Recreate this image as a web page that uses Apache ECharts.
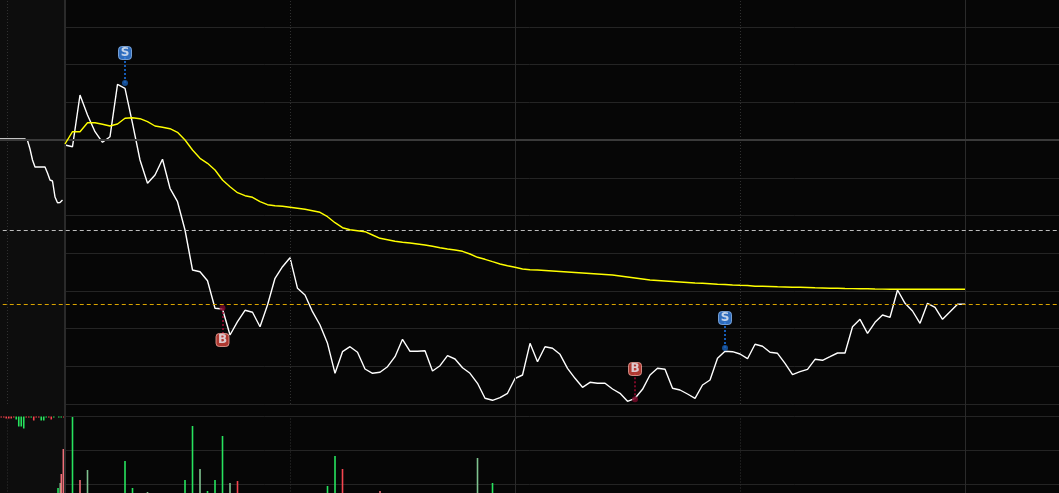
<!DOCTYPE html>
<html><head><meta charset="utf-8">
<style>html,body{margin:0;padding:0;background:#060606}#c{width:1059px;height:493px}</style>
<script src="https://cdn.jsdelivr.net/npm/echarts@6/dist/echarts.min.js"></script>
</head><body><div id="c"></div>
<script>
const preClose = 264;
const prePrice = [265,265,265,265,265,265,265,265,265,265,265,263.5,255,244,237,237,237,237,237,231,224,223,207,201.3,201.5,204];
const price = [259,257.3,309,289,272.3,261.7,267.3,319.7,315.7,280.7,244,220.7,229,244.7,215.7,202.3,174,134,132.3,123.3,95.7,95,69,82.3,93.7,91.7,77.3,99,125.7,137.3,146.3,115.7,109,92.3,79,60.7,30.7,52.3,57.3,51.7,35,30.7,31.7,37.3,47.3,64.7,52.7,52.7,53.3,33,38.3,48.3,45,36.3,30.7,20.7,5.7,3.7,6.3,10.7,25.5,29,60.7,42.3,57.3,55.7,49.7,35.7,25.7,16.7,21.7,20.7,20.7,15,10.7,2.7,5.7,14.7,29,35.7,34.7,15.7,14,10,5.7,19,24,45.7,52.7,52.3,50,45.3,59.7,57.7,51.7,50.7,40.7,29.3,32.3,34.7,44.7,43.7,47.3,51,51,77.3,84.7,70.7,81.7,89,86.7,114,100.7,93,80.7,100.7,96.7,84.7,92.3,99.7,99.7];
const avgPrice = [260,272.3,272.3,281.3,281.3,279.7,278,280,285.7,286.3,285.3,282.3,278,276.7,275.3,271.7,264,254,245.7,240.7,234,224,217.3,211.3,208.3,206.7,202.3,199.3,198.3,197.7,196.7,195.7,194.7,193.3,191.7,187.3,181.3,176.3,174.3,173.3,172.3,169,165.7,164.3,162.7,161.7,161,160,159,157.7,156.3,155,154,152.7,150,146.7,144.7,142.3,140,138.3,136.7,135,134.3,134,133.5,133,132.5,132,131.5,131,130.5,130,129.5,129,128,127,126,125,124,123.5,123,122.5,122,121.5,121,120.7,120.2,119.7,119.5,119,118.7,118.5,117.7,117.7,117.5,117.2,117,116.7,116.7,116.5,116.2,116,115.7,115.7,115.5,115.4,115.3,115.2,115,114.9,114.7,114.7,114.7,114.7,114.7,114.7,114.7,114.7,114.7,114.7,114.7];
const levelHigh = 173.7;
const levelLow = 99.7;
const sigIndex = [8,21,76,88];
const sigText = ['S','B','B','S'];
const sigPrice = [321,96,4.7,56];
const sigBadge = [351,64,35,86];
const preVolHang = [1,1,2,2,2,1,3,10,10,12,1,1,1,4,1,1,4,4,1,1,3,1,0,1,1,1];
const preVolHangSide = ['r','r','r','r','r','r','g','g','g','g','r','r','g','r','r','r','g','g','g','r','r','g','g','g','g','r'];
const preVolSlot = [-0.93,-0.63,-0.49,-0.22];
const preVol = [30.5,35.5,44.5,69.5];
const preVolSide = ['g','p','s','s'];
const volIndex = [1,2,3,8,9,11,16,17,18,19,20,21,22,23,35,36,37,42,55,57];
const vol = [101.5,38.5,48.5,57.5,30.5,26.5,38.5,92.5,49.5,27.5,38.5,82.5,35.5,37.5,32.5,62.5,49.5,27.5,60.5,35.5];
const volSide = ['g','s','p','g','g','p','g','g','p','g','g','g','p','r','g','g','r','s','p','g'];

const C = {g:'#27e35e',p:'#7fc28f',r:'#f5454f',s:'#ee6f78'};
const GRID='#242424', X0=-8.667, X1=132.53, BAR=1.6;
const seq = a => a.map((v,i)=>[i,v]);
const preX = j => X0 + j/3;
const vGuides = (top) => {
  const out=[];
  const solid=(x,w,c)=>out.push([{coord:[x,0],lineStyle:{color:c,width:w,type:'solid'}},{coord:[x,top]}]);
  const dot=(x)=>out.push([{coord:[x,0],lineStyle:{color:'#303030',width:1,type:[1,2]}},{coord:[x,top===414.7?404:102]}]);
  solid(0,2,'#2a2a2a');solid(60,1,'#2a2a2a');solid(120,1,'#2a2a2a');
  dot(-7.67);dot(30);dot(90);
  return out;
};
const bg = (xi,yi,name)=>({type:'line',name,xAxisIndex:xi,yAxisIndex:yi,data:[],silent:true,z:1,
  markArea:{silent:true,itemStyle:{color:'#0d0d0d',opacity:1},data:[[{coord:[X0,0]},{coord:[0,yi===0?414.7:114.5]}]]},
  markLine:{silent:true,symbol:'none',animation:false,label:{show:false},data:vGuides(yi===0?414.7:114.5)}});
const sigColor = t => t==='S'?{dot:'#1a5fb4',line:'#1b78f0',fill:'#3a86e8',edge:'#8db8ee'}:{dot:'#7c0b2c',line:'#a30b34',fill:'#d8463c',edge:'#eda79f'};

const option = {
  animation:false, backgroundColor:'#060606',
  grid:[
    {left:0,right:0,top:-10.7,height:414.7,outerBoundsMode:'none'},
    {left:0,right:0,top:404,height:114.5,outerBoundsMode:'none'}
  ],
  xAxis:[0,1].map(g=>({type:'value',gridIndex:g,min:X0,max:X1,show:false,splitLine:{show:false}})),
  yAxis:[
    {type:'value',gridIndex:0,min:0,max:414.7,interval:37.7,axisLabel:{show:false},axisLine:{show:false},axisTick:{show:false},splitLine:{show:true,lineStyle:{color:GRID,width:1}}},
    {type:'value',gridIndex:1,min:0,max:114.5,interval:34,axisLabel:{show:false},axisLine:{show:false},axisTick:{show:false},splitLine:{show:true,lineStyle:{color:GRID,width:1}}},
    {type:'value',gridIndex:1,inverse:true,min:-12.5,max:102,axisLabel:{show:false},axisLine:{show:false},axisTick:{show:false},splitLine:{show:false}}
  ],
  series:[
    bg(0,0,'guidesPrice'), bg(1,1,'guidesVol'),
    {type:'line',name:'levels',xAxisIndex:0,yAxisIndex:0,data:[],silent:true,z:2,
      markLine:{silent:true,symbol:'none',animation:false,label:{show:false},data:[
        [{coord:[X0,preClose],lineStyle:{color:'#3a3a3a',width:2,type:'solid'}},{coord:[X1,preClose]}],
        [{coord:[-8.3,levelHigh],lineStyle:{color:'#bdbdbd',width:1,type:[4,3]}},{coord:[X1,levelHigh]}],
        [{coord:[-8.3,levelLow],lineStyle:{color:'#d9a300',width:1,type:[4,3],opacity:1}},{coord:[X1,levelLow]}]
      ]}},
    {type:'line',name:'pre',xAxisIndex:0,yAxisIndex:0,data:prePrice.map((v,j)=>[preX(j),v]),showSymbol:false,lineStyle:{color:'#fff',width:1.4},z:4},
    {type:'line',name:'price',xAxisIndex:0,yAxisIndex:0,data:seq(price),showSymbol:false,lineStyle:{color:'#fff',width:1.4},z:4},
    {type:'line',name:'avg',xAxisIndex:0,yAxisIndex:0,data:seq(avgPrice),showSymbol:false,lineStyle:{color:'#ffff00',width:1.4},z:5},
    {type:'scatter',name:'sigDots',xAxisIndex:0,yAxisIndex:0,symbolSize:6,z:6,
      data:sigIndex.map((x,k)=>({value:[x,sigPrice[k]],itemStyle:{color:sigColor(sigText[k]).dot}})),
      markLine:{silent:true,symbol:'none',animation:false,label:{show:false},
        data:sigIndex.map((x,k)=>[{coord:[x,sigPrice[k]],lineStyle:{color:sigColor(sigText[k]).line,width:1.5,type:[2,2]}},{coord:[x,sigBadge[k]]}])}},
    {type:'scatter',name:'sigBadges',xAxisIndex:0,yAxisIndex:0,symbol:'roundRect',symbolSize:13,z:7,
      data:sigIndex.map((x,k)=>({value:[x,sigBadge[k]],name:sigText[k],itemStyle:{color:sigColor(sigText[k]).fill,borderColor:sigColor(sigText[k]).edge,borderWidth:1}})),
      label:{show:true,position:'inside',formatter:p=>p.name,color:'#e9eef5',fontSize:12,fontFamily:'DejaVu Sans',fontWeight:'bold'}},
    {type:'bar',name:'preVolHang',xAxisIndex:1,yAxisIndex:2,barWidth:BAR,barGap:'-100%',z:3,
      data:preVolHang.map((v,j)=>({value:[preX(j+0.5),v],itemStyle:{color:C[preVolHangSide[j]]}}))},
    {type:'bar',name:'preVol',xAxisIndex:1,yAxisIndex:1,barWidth:BAR,barGap:'-100%',z:3,
      data:preVol.map((v,k)=>({value:[preVolSlot[k],v],itemStyle:{color:C[preVolSide[k]]}}))},
    {type:'bar',name:'vol',xAxisIndex:1,yAxisIndex:1,barWidth:BAR,barGap:'-100%',z:3,
      data:vol.map((v,k)=>({value:[volIndex[k],v],itemStyle:{color:C[volSide[k]]}}))}
  ]
};
echarts.init(document.getElementById('c'),null,{renderer:'canvas'}).setOption(option);
</script></body></html>
